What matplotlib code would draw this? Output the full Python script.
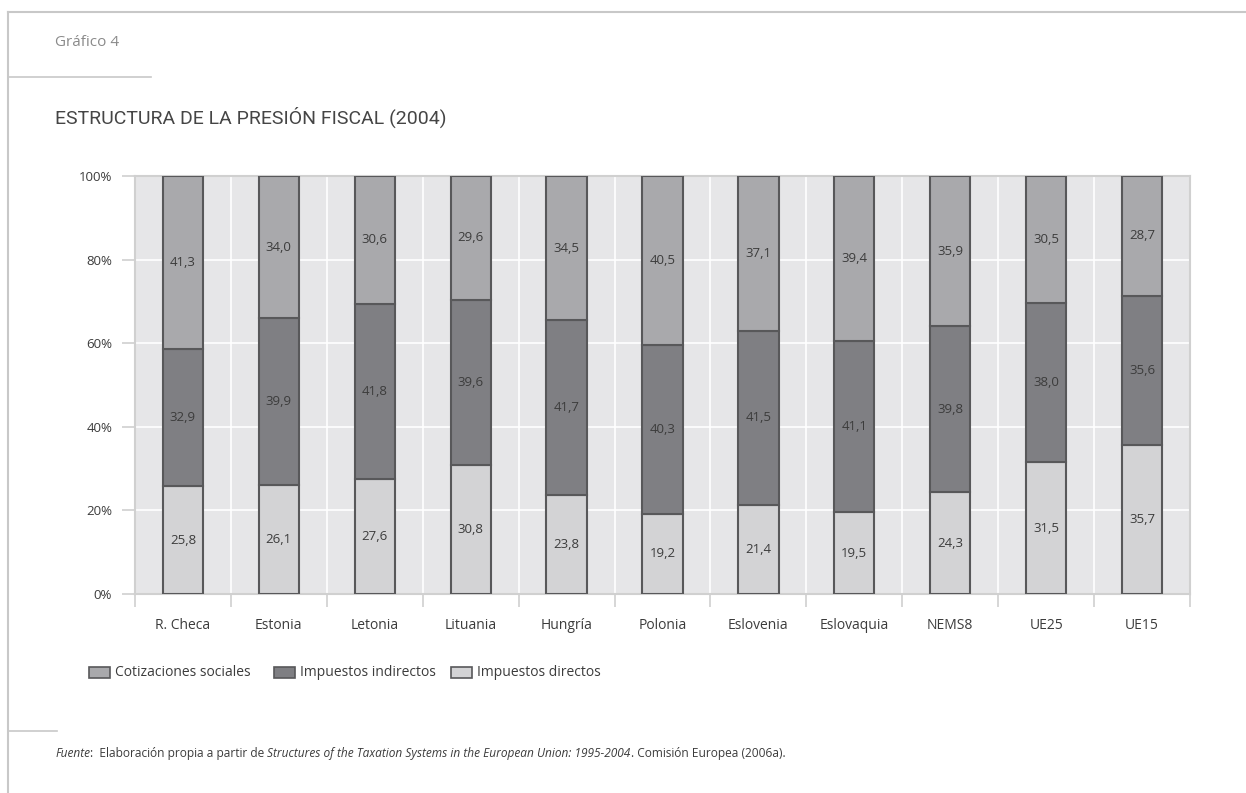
import numpy as np
import matplotlib.pyplot as plt
from matplotlib.patches import Rectangle
from matplotlib.lines import Line2D

paises = ['R. Checa', 'Estonia', 'Letonia', 'Lituania', 'Hungría', 'Polonia',
          'Eslovenia', 'Eslovaquia', 'NEMS8', 'UE25', 'UE15']
directos = [25.8, 26.1, 27.6, 30.8, 23.8, 19.2, 21.4, 19.5, 24.3, 31.5, 35.7]
indirectos = [32.9, 39.9, 41.8, 39.6, 41.7, 40.3, 41.5, 41.1, 39.8, 38.0, 35.6]
cotizaciones = [41.3, 34.0, 30.6, 29.6, 34.5, 40.5, 37.1, 39.4, 35.9, 30.5, 28.7]
series = ['Cotizaciones sociales', 'Impuestos indirectos', 'Impuestos directos']
yticks = [0, 20, 40, 60, 80, 100]

plt.rcParams['font.family'] = ['Open Sans', 'DejaVu Sans']

c_cot = '#a9a9ac'
c_ind = '#7f7f83'
c_dir = '#d3d3d5'
c_borde = '#58585a'
c_texto = '#3c3c3c'

fig = plt.figure(figsize=(12.46, 7.93), dpi=100)

# marco de la página
fig.add_artist(Line2D([8/1246, 1], [1 - 12/793, 1 - 12/793], color='#c8c8c8', lw=1.5))
fig.add_artist(Line2D([8/1246, 8/1246], [0, 1 - 12/793], color='#c8c8c8', lw=1.5))
fig.add_artist(Line2D([8/1246, 151/1246], [1 - 77/793, 1 - 77/793], color='#c8c8c8', lw=1.2))
fig.add_artist(Line2D([8/1246, 57/1246], [1 - 731/793, 1 - 731/793], color='#c8c8c8', lw=1.2))

fig.text(55/1246, 1 - 43/793, 'Gráfico 4', fontsize=11, color='#8a8a8a', va='center')
fig.text(55/1246, 1 - 117/793, 'ESTRUCTURA DE LA PRESIÓN FISCAL (2004)', fontsize=14,
         family=['Roboto', 'DejaVu Sans'], color='#454545', va='center')

ax = fig.add_axes([135/1246, 1 - 594/793, 1055/1246, 418/793])
ax.set_facecolor('#e6e6e8')
x = np.arange(len(paises))
ancho = 0.42

d = np.array(directos)
i = np.array(indirectos)
c = np.array(cotizaciones)
ax.bar(x, d, ancho, color=c_dir, edgecolor=c_borde, linewidth=1.5, zorder=3)
ax.bar(x, i, ancho, bottom=d, color=c_ind, edgecolor=c_borde, linewidth=1.5, zorder=3)
ax.bar(x, c, ancho, bottom=d + i, color=c_cot, edgecolor=c_borde, linewidth=1.5, zorder=3)

for k in range(len(paises)):
    ax.text(x[k], d[k] / 2, f'{directos[k]:.1f}'.replace('.', ','), ha='center', va='center',
            fontsize=9.5, color=c_texto, zorder=4)
    ax.text(x[k], d[k] + i[k] / 2, f'{indirectos[k]:.1f}'.replace('.', ','), ha='center',
            va='center', fontsize=9.5, color=c_texto, zorder=4)
    ax.text(x[k], d[k] + i[k] + c[k] / 2, f'{cotizaciones[k]:.1f}'.replace('.', ','),
            ha='center', va='center', fontsize=9.5, color=c_texto, zorder=4)

ax.set_xlim(-0.5, len(paises) - 0.5)
ax.set_ylim(0, 100)
ax.set_yticks(yticks)
ax.set_yticklabels([f'{v}%' for v in yticks])
for v in yticks[1:]:
    ax.axhline(v, color='white', lw=1.2, zorder=1)
for b in np.arange(0.5, len(paises) - 1, 1):
    ax.axvline(b, color='white', lw=1.2, zorder=1)

ax.set_xticks(np.arange(-0.5, len(paises), 1))
ax.set_xticklabels([])
ax.set_xticks(x, minor=True)
ax.set_xticklabels(paises, minor=True)
ax.tick_params(axis='x', which='major', length=9.5, color='#d0d0d0', width=1.2)
ax.tick_params(axis='x', which='minor', length=0, pad=17, labelsize=10, labelcolor=c_texto)
ax.tick_params(axis='y', length=9.5, color='#d0d0d0', width=1.2, pad=7, labelsize=9.5,
               labelcolor=c_texto)
for s in ax.spines.values():
    s.set_color('#d0d0d0')
    s.set_linewidth(1.5)

# leyenda
colores = [c_cot, c_ind, c_dir]
xs = [89, 274, 451]
for xp, col, nom in zip(xs, colores, series):
    fig.add_artist(Rectangle((xp/1246, 1 - 678/793), 21/1246, 11/793, facecolor=col,
                             edgecolor=c_borde, linewidth=1.2))
    fig.text((xp + 26)/1246, 1 - 672/793, nom, fontsize=10, color=c_texto, va='center')

# fuente con partes en cursiva
partes = [('Fuente', 'italic'), (':  Elaboración propia a partir de ', 'normal'),
          ('Structures of the Taxation Systems in the European Union: 1995-2004', 'italic'),
          ('. Comisión Europea (2006a).', 'normal')]
t = fig.text(55/1246, 1 - 757/793, partes[0][0], fontsize=8.6, style=partes[0][1],
             color=c_texto, va='baseline')
for txt, est in partes[1:]:
    t = ax.annotate(txt, xy=(1, 0), xycoords=t, fontsize=8.6, style=est,
                    color=c_texto, va='bottom', annotation_clip=False)

fig.savefig('out.png', dpi=100)
